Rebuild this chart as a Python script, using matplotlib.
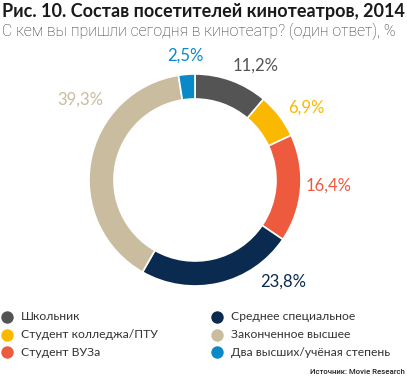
import matplotlib.pyplot as plt

categories = ['Школьник', 'Студент колледжа/ПТУ', 'Студент ВУЗа',
              'Среднее специальное', 'Законченное высшее', 'Два высших/учёная степень']
values = [11.2, 6.9, 16.4, 23.8, 39.3, 2.5]
colors = ['#545454', '#fbb800', '#ee5a3e', '#0b2a4f', '#c9bc9f', '#0a89c8']
value_labels = ['11,2%', '6,9%', '16,4%', '23,8%', '39,3%', '2,5%']

# label centres in pixels (x, y from top)
label_pos = [(256, 66), (306, 108), (329, 186), (283, 282), (80, 100), (185, 56)]

W, H = 407, 379
fig = plt.figure(figsize=(W / 100, H / 100), dpi=100)
ax = fig.add_axes([0, 0, 1, 1])

cx, cy, r = 195, 180, 106
ax.pie(values, colors=colors, startangle=90, counterclock=False,
       center=(cx, H - cy), radius=r, frame=True,
       wedgeprops=dict(width=25, edgecolor='white', linewidth=1.2))
ax.set_xlim(0, W)
ax.set_ylim(0, H)
ax.set_aspect('equal')
ax.axis('off')


def fit(t, width):
    # shrink/grow a text so it spans the given pixel width
    fig.canvas.draw()
    w = t.get_window_extent().width
    t.set_fontsize(t.get_fontsize() * width / w)


for (x, y), lab, c in zip(label_pos, value_labels, colors):
    ax.text(x, H - y, lab, color=c, fontsize=12, ha='center', va='center',
            family='Lato')

title = ax.text(2, H - 11, 'Рис. 10. Состав посетителей кинотеатров, 2014',
                fontsize=13, fontweight='bold', family='Lato',
                color='#1a1a1a', ha='left', va='center')
fit(title, 402)
sub = ax.text(2, H - 31, 'С кем вы пришли сегодня в кинотеатр? (один ответ), %',
              fontsize=11, family='Roboto', fontweight='light', color='#333333',
              ha='left', va='center')
fit(sub, 393)

# legend
rows = [317, 335, 352]
for i, (name, c) in enumerate(zip(categories, colors)):
    col = i // 3
    y = H - rows[i % 3]
    mx = 7 if col == 0 else 217
    ax.scatter([mx], [y], s=80, color=c, zorder=3, linewidths=0)
    ax.text(mx + 14, y, name, fontsize=8.7, family='Lato', color='#333333',
            ha='left', va='center')

src = ax.text(405, H - 372, 'Источник: Movie Research', fontsize=8,
              family='Roboto', fontweight='medium', color='#222222',
              ha='right', va='center')
fit(src, 95)

fig.savefig('out.png', dpi=100)
